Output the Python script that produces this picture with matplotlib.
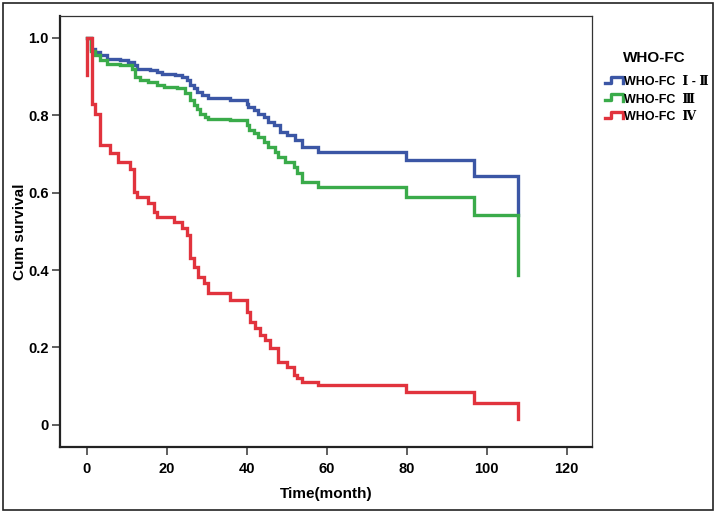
# %%
import matplotlib.pyplot as plt
from matplotlib.lines import Line2D
from matplotlib.legend_handler import HandlerBase
from matplotlib.patches import Rectangle

# Kaplan-Meier steps (time in months, cumulative survival)
t_fc12 = [0, 1, 2.1, 3.3, 5, 8.3, 10.4, 11.7, 12.5, 15.8, 17.5, 18.75, 22.1, 23.75, 25, 25.8,
          26.7, 27.5, 28.75, 30.4, 35.8, 40, 40.4, 41.7, 42.9, 44.2, 45.4, 46.7, 48.3, 50,
          52.1, 53.75, 57.9, 79.7, 96.9, 107.9]
s_fc12 = [1.0, 0.972, 0.963, 0.955, 0.946, 0.942, 0.937, 0.929, 0.920, 0.916, 0.912, 0.907,
          0.903, 0.899, 0.890, 0.877, 0.869, 0.860, 0.852, 0.843, 0.839, 0.830, 0.821, 0.813,
          0.804, 0.796, 0.783, 0.774, 0.757, 0.748, 0.735, 0.718, 0.705, 0.684, 0.643, 0.542]

t_fc3 = [0, 1, 2.1, 3.3, 5, 8.3, 11.25, 12.1, 13.3, 15.4, 17.5, 19.2, 22.5, 24.6, 25.8, 26.7,
         27.5, 28.3, 29.6, 30.4, 35.8, 40, 40.6, 41.7, 42.9, 44.2, 45.4, 47.1, 47.9, 49.6,
         51.7, 52.5, 53.75, 57.9, 79.7, 96.9, 107.9]
s_fc3 = [1.0, 0.966, 0.955, 0.942, 0.933, 0.929, 0.920, 0.899, 0.890, 0.886, 0.877, 0.873,
         0.869, 0.856, 0.839, 0.826, 0.817, 0.804, 0.796, 0.791, 0.787, 0.774, 0.761, 0.753,
         0.744, 0.731, 0.718, 0.705, 0.692, 0.680, 0.667, 0.650, 0.628, 0.615, 0.589, 0.542,
         0.387]

t_fc4 = [0, 0, 1.2, 2.1, 3.3, 5.8, 7.9, 10.8, 11.7, 12.5, 15.4, 16.7, 17.5, 21.7, 23.7, 25,
         25.8, 26.7, 27.9, 29.2, 30.4, 35.8, 40, 40.8, 42.1, 43.3, 44.6, 45.7, 47.9, 50, 51.7,
         52.5, 53.8, 57.9, 79.7, 96.9, 107.9]
s_fc4 = [0.903, 1.0, 0.830, 0.804, 0.723, 0.701, 0.680, 0.662, 0.602, 0.589, 0.572, 0.550,
         0.537, 0.525, 0.508, 0.490, 0.430, 0.409, 0.383, 0.366, 0.340, 0.323, 0.292, 0.267,
         0.250, 0.232, 0.219, 0.198, 0.163, 0.150, 0.129, 0.120, 0.112, 0.103, 0.084, 0.056,
         0.015]

groups = ["WHO-FC  \u2160 - \u2161", "WHO-FC  \u2162", "WHO-FC  \u2163"]
colors = ["#3b56a5", "#3aab4a", "#e1333d"]

x_ticks = [0, 20, 40, 60, 80, 100, 120]
y_ticks = [0, 0.2, 0.4, 0.6, 0.8, 1.0]
y_ticklabels = ["0", "0.2", "0.4", "0.6", "0.8", "1.0"]


class StepHandler(HandlerBase):
    def create_artists(self, legend, orig_handle, xdescent, ydescent, width, height,
                       fontsize, trans):
        xs = [0, 0.35 * width, 0.35 * width, width, width]
        ys = [0.25 * height, 0.25 * height, 0.95 * height, 0.95 * height, 0.2 * height]
        ln = Line2D(xs, ys, color=orig_handle.get_color(), lw=2.4, transform=trans)
        return [ln]


fig = plt.figure(figsize=(7.16, 5.13), dpi=100)
ax = fig.add_axes([60 / 716, 1 - 447 / 513, 532 / 716, 431 / 513])

lines = []
for t, s, c in zip([t_fc12, t_fc3, t_fc4], [s_fc12, s_fc3, s_fc4], colors):
    ln, = ax.step(t, s, where="post", color=c, lw=2.4, solid_joinstyle="miter")
    lines.append(ln)

ax.set_xlim(-6.7, 126.3)
ax.set_ylim(-0.057, 1.056)
ax.set_xticks(x_ticks)
ax.set_yticks(y_ticks)
ax.set_yticklabels(y_ticklabels)
for lab in ax.get_xticklabels() + ax.get_yticklabels():
    lab.set_fontweight("bold")
    lab.set_fontsize(10.5)
    lab.set_family("Liberation Sans")
ax.tick_params(direction="out", length=6, width=1.2, color="#444444")
ax.tick_params(axis="y", pad=2)
ax.tick_params(axis="x", pad=5)

for side in ["left", "bottom"]:
    ax.spines[side].set_linewidth(1.6)
    ax.spines[side].set_color("#222222")
for side in ["top", "right"]:
    ax.spines[side].set_linewidth(0.9)
    ax.spines[side].set_color("#333333")

ax.set_xlabel("Time(month)", fontsize=11, fontweight="bold", family="Liberation Sans")
ax.set_ylabel("Cum survival", fontsize=11, fontweight="bold", family="Liberation Sans")
ax.xaxis.set_label_coords(0.5, -0.093)
ax.yaxis.set_label_coords(-0.062, 0.5)

fig.text(654 / 716, 1 - 58 / 513, "WHO-FC", ha="center", va="center", fontsize=11,
         fontweight="bold", family="Liberation Sans")
fig.legend(lines, groups, loc="upper left", bbox_to_anchor=(600 / 716, 1 - 71 / 513),
           frameon=False, handlelength=1.4, handletextpad=0.15, labelspacing=0.45,
           borderaxespad=0, handler_map={Line2D: StepHandler()},
           prop={"family": ["Liberation Sans", "DejaVu Serif"], "weight": "bold", "size": 9})

fig.patches.append(Rectangle((3 / 716, 3 / 513), 710 / 716, 507 / 513, fill=False,
                             lw=1.2, ec="#222222", transform=fig.transFigure))

fig.savefig("out.png", dpi=100)
